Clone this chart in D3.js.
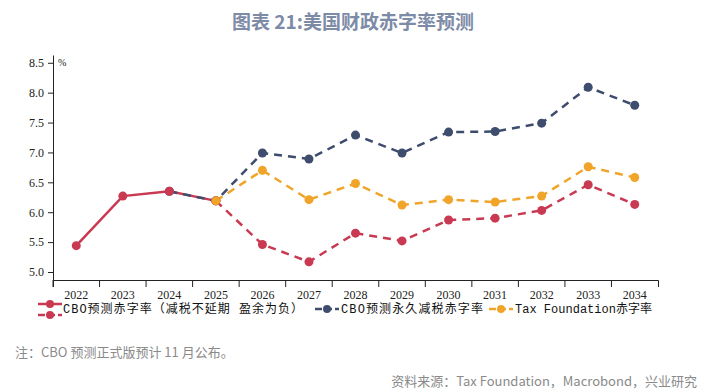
<!DOCTYPE html>
<head>
  <meta charset="utf-8">
  <style>
    body { margin: 0; background: #fff; }
    svg { display: block; }
  </style>
</head>
<body>
  <script src="https://cdn.jsdelivr.net/npm/d3@7/dist/d3.min.js"></script>
  <script>
    // data
    var years = ["2022", "2023", "2024", "2025", "2026", "2027", "2028", "2029", "2030", "2031", "2032", "2033", "2034"]
    var cboActual = [5.44, 6.27, 6.35, 6.19, null, null, null, null, null, null, null, null, null]
    var cboBase = [null, null, null, 6.19, 5.46, 5.17, 5.65, 5.52, 5.87, 5.90, 6.03, 6.46, 6.13]
    var cboPermanent = [null, null, 6.35, 6.19, 6.99, 6.89, 7.29, 6.99, 7.34, 7.35, 7.49, 8.09, 7.79]
    var taxFoundation = [null, null, null, 6.19, 6.70, 6.21, 6.48, 6.12, 6.21, 6.17, 6.27, 6.76, 6.58]
    var yTicks = [5.0, 5.5, 6.0, 6.5, 7.0, 7.5, 8.0, 8.5]

    var w = 711, h = 392
    var red = "#c93a52", navy = "#3e4c6d", orange = "#f0a52a"

    var svg = d3.select("body").append("svg")
      .attr("width", w)
      .attr("height", h)

    // title
    svg.append("text")
      .attr("x", 353).attr("y", 29)
      .attr("text-anchor", "middle")
      .attr("font-family", "'Noto Sans CJK SC', sans-serif")
      .attr("font-weight", "bold")
      .attr("font-size", 19)
      .attr("fill", "#7d8ba6")
      .text("图表 21:美国财政赤字率预测")

    var x = d3.scaleBand().domain(years).range([53, 658])
    var y = d3.scaleLinear().domain([4.866, 8.63]).range([280, 55])

    var xAxis = d3.axisBottom(x).tickSize(7).tickSizeOuter(7)
    var gx = svg.append("g")
      .attr("transform", "translate(0,280)")
      .call(xAxis)
    // move ticks to band edges
    gx.selectAll(".tick line").attr("x1", -x.bandwidth() / 2).attr("x2", -x.bandwidth() / 2)
    gx.selectAll(".tick text").attr("dy", "0.71em").attr("y", 10)
    gx.selectAll("text")
      .attr("font-family", "'Liberation Serif', serif")
      .attr("font-size", 12)
      .attr("fill", "#222")
    gx.select(".domain").attr("stroke", "#222")
    gx.selectAll("line").attr("stroke", "#222")

    var yAxis = d3.axisLeft(y).tickValues(yTicks).tickFormat(d3.format(".1f")).tickSize(5).tickSizeOuter(0)
    var gy = svg.append("g")
      .attr("transform", "translate(53,0)")
      .call(yAxis)
    gy.selectAll("text")
      .attr("font-family", "'Liberation Serif', serif")
      .attr("font-size", 12)
      .attr("fill", "#222")
      .attr("x", -9)
    gy.select(".domain").attr("stroke", "#222")
    gy.selectAll("line").attr("stroke", "#222")

    svg.append("text")
      .attr("x", 58).attr("y", 66)
      .attr("font-family", "'Liberation Serif', serif")
      .attr("font-size", 10)
      .attr("fill", "#222")
      .text("%")

    function points(values) {
      return years.map(function(yr, i) { return { year: yr, v: values[i] } })
        .filter(function(d) { return d.v !== null })
    }
    var cx = function(d) { return x(d.year) + x.bandwidth() / 2 }
    var cy = function(d) { return y(d.v) }
    var line = d3.line().x(cx).y(cy)

    function drawLine(values, color, dashed) {
      svg.append("path")
        .datum(points(values))
        .attr("d", line)
        .attr("fill", "none")
        .attr("stroke", color)
        .attr("stroke-width", 2.5)
        .attr("stroke-dasharray", dashed ? "8,6" : null)
    }
    function drawDots(values, color) {
      svg.append("g").selectAll("circle")
        .data(points(values))
        .enter()
        .append("circle")
        .attr("cx", cx)
        .attr("cy", cy)
        .attr("r", 4.5)
        .attr("fill", color)
    }

    // lines first, then markers
    drawLine(cboActual, red, false)
    drawLine(cboBase, red, true)
    drawLine(cboPermanent, navy, true)
    drawLine(taxFoundation, orange, true)
    drawDots(cboPermanent, navy)
    drawDots(cboActual, red)
    drawDots(cboBase, red)
    drawDots(taxFoundation, orange)

    // legend
    var legendFont = "'Liberation Mono', 'Noto Sans CJK SC', monospace"
    function legendIcon(x0, yy, color, dashed) {
      svg.append("line")
        .attr("x1", x0).attr("x2", x0 + 24)
        .attr("y1", yy).attr("y2", yy)
        .attr("stroke", color).attr("stroke-width", 2.5)
        .attr("stroke-dasharray", dashed ? "7,3" : null)
      svg.append("circle")
        .attr("cx", x0 + 12).attr("cy", yy).attr("r", 4).attr("fill", color)
    }
    function legendText(x0, label, len) {
      svg.append("text")
        .attr("x", x0).attr("y", 313)
        .attr("font-family", legendFont)
        .attr("font-size", 12)
        .attr("fill", "#111")
        .attr("textLength", len)
        .attr("lengthAdjust", "spacing")
        .text(label)
    }
    legendIcon(38, 304, red, false)
    legendIcon(38, 315, red, true)
    legendText(63, "CBO预测赤字率（减税不延期 盈余为负）", 240)
    legendIcon(315, 309, navy, true)
    legendText(341, "CBO预测永久减税赤字率", 142)
    legendIcon(489, 309, orange, true)
    legendText(515, "Tax Foundation赤字率", 137)

    // notes
    svg.append("text")
      .attr("x", 15).attr("y", 357)
      .attr("font-family", "'Noto Sans CJK SC', sans-serif")
      .attr("font-size", 13)
      .attr("fill", "#8a8a8a")
      .text("注：CBO 预测正式版预计 11 月公布。")
    svg.append("text")
      .attr("x", 697).attr("y", 386)
      .attr("text-anchor", "end")
      .attr("font-family", "'Noto Sans CJK SC', sans-serif")
      .attr("font-size", 13)
      .attr("fill", "#8a8a8a")
      .text("资料来源：Tax Foundation，Macrobond，兴业研究")
  </script>
</body>
